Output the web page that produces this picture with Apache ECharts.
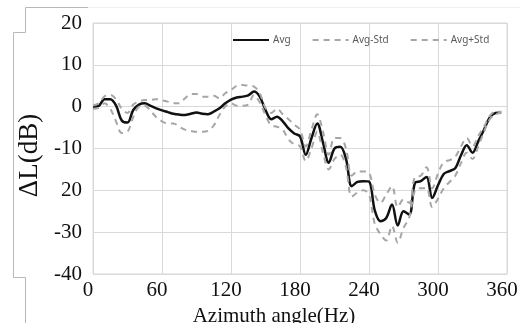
<!DOCTYPE html>
<html>
<head>
<meta charset="utf-8">
<script src="https://cdn.jsdelivr.net/npm/echarts@6/dist/echarts.min.js"></script>
<style>
  html, body { margin: 0; padding: 0; background: #fff; }
  #main { width: 530px; height: 323px; }
</style>
</head>
<body>
<div id="main"></div>
<script>
// azimuth every 5 degrees, 0..355
const angles = [
  0, 5, 10, 15, 20, 25, 30, 35, 40, 45, 50, 55, 60, 65, 70, 75, 80, 85,
  90, 95, 100, 105, 110, 115, 120, 125, 130, 135, 140, 145, 150, 155, 160, 165, 170, 175,
  180, 185, 190, 195, 200, 205, 210, 215, 220, 225, 230, 235, 240, 245, 250, 255, 260, 265,
  270, 275, 280, 285, 290, 295, 300, 305, 310, 315, 320, 325, 330, 335, 340, 345, 350, 355
];
const avg = [
  0, 0.2, 1.8, 1.8, 0.3, -3.3, -3.8, -0.8, 0.5, 0.8, 0.2, -0.4, -0.9, -1.3, -1.7, -1.9, -2.0, -1.7,
  -1.4, -1.7, -1.8, -1.2, -0.4, 0.8, 1.7, 2.2, 2.4, 2.7, 3.6, 2.4, -0.8, -3.0, -2.4, -3.5, -5.2, -6.4,
  -7.1, -11.5, -7.5, -4.0, -8.6, -13.4, -10.0, -9.6, -12.5, -19.0, -18.0, -17.8, -17.9, -24.8, -27.4, -26.6, -23.4, -28.4,
  -25.0, -25.8, -18.2, -17.8, -16.8, -21.8, -18.8, -16.1, -15.4, -14.7, -11.6, -9.2, -11.0, -8.3, -5.5, -2.6, -1.5, -1.4
];
const avgMinusStd = [
  -0.5, -0.3, 0.8, -0.5, -3.5, -6.3, -6.0, -2.5, 0.0, 0.2, -1.0, -2.5, -3.5, -4.0, -4.0, -4.8, -5.5, -5.8,
  -6.0, -6.0, -5.8, -4.5, -2.0, 0.0, 0.8, 0.2, 0.2, 0.5, 2.8, 1.0, -2.0, -4.5, -4.8, -5.5, -7.8, -9.0,
  -9.5, -13.0, -10.0, -6.0, -11.0, -15.0, -12.5, -11.5, -14.5, -21.5, -20.5, -20.0, -21.0, -28.0, -30.5, -32.0, -28.5, -32.5,
  -29.0, -26.5, -20.0, -19.5, -19.5, -24.0, -22.0, -19.5, -18.0, -16.5, -13.5, -11.0, -12.5, -9.5, -6.0, -3.0, -1.8, -1.5
];
const avgPlusStd = [
  0.3, 0.8, 2.5, 2.8, 1.8, -0.5, -1.5, 0.5, 1.2, 1.6, 1.6, 1.8, 1.5, 1.2, 0.8, 0.8, 2.0, 3.0,
  3.0, 2.4, 2.4, 2.6, 2.0, 3.2, 4.0, 5.0, 5.2, 5.0, 4.8, 3.2, -0.3, -1.5, -0.5, -1.8, -3.0, -4.3,
  -5.5, -9.5, -5.5, -1.8, -6.0, -11.5, -7.5, -7.5, -10.0, -16.5, -15.5, -15.5, -15.8, -21.0, -23.0, -21.0, -19.0, -24.0,
  -22.2, -23.0, -16.8, -16.5, -14.5, -19.5, -16.0, -13.2, -12.8, -12.0, -9.5, -7.5, -9.5, -7.0, -4.8, -2.2, -1.2, -1.2
];
// y tick labels as printed in the figure
const yTickValues = [20, 10, 0, -10, -20, -30, -40];
const yTickLabels = ['20', '10', '0', '-10', '20', '-30', '-40'];

const pairs = (ys) => angles.map((a, i) => [a, ys[i]]);
const serif = 'Liberation Serif';
const gridColor = '#d9d9d9';
const frameColor = '#b8b8b8';

const chart = echarts.init(document.getElementById('main'));

const option = {
  backgroundColor: '#fff',
  animation: false,
  grid: {
    left: 93, top: 23, width: 414, height: 251,
    outerBoundsMode: 'none',
    show: true, borderColor: gridColor, borderWidth: 1,
  },
  legend: {
    data: ['Avg', 'Avg-Std', 'Avg+Std'],
    left: 227,
    top: 30,
    itemWidth: 36,
    itemHeight: 10,
    itemGap: 21,
    itemStyle: { opacity: 0 },
    textStyle: { fontFamily: 'Noto Sans', fontSize: 10, color: '#595959', padding: [0, 0, 0, -1] },
  },
  xAxis: {
    type: 'value',
    min: 0,
    max: 360,
    interval: 60,
    axisLine: { show: false },
    axisTick: { show: false },
    splitLine: { lineStyle: { color: gridColor, width: 1 } },
    axisLabel: { fontFamily: serif, fontSize: 21, color: '#111', margin: 6, padding: [0, 10, 0, 0] },
    name: 'Azimuth angle(Hz)',
    nameLocation: 'middle',
    nameGap: 27,
    nameTextStyle: { fontFamily: serif, fontSize: 21, color: '#111', padding: [0, 52, 0, 0] },
  },
  yAxis: {
    type: 'value',
    min: -40,
    max: 20,
    interval: 10,
    axisLine: { show: false },
    axisTick: { show: false },
    splitLine: { lineStyle: { color: gridColor, width: 1 } },
    axisLabel: {
      fontFamily: serif,
      fontSize: 21,
      color: '#111',
      margin: 11,
      formatter: (v) => {
        const i = yTickValues.indexOf(v);
        return i >= 0 ? yTickLabels[i] : String(v);
      },
    },
    name: 'ΔL(dB)',
    nameLocation: 'middle',
    nameGap: 50,
    nameTextStyle: { fontFamily: serif, fontSize: 27, color: '#111', padding: [0, 14, 0, 0] },
  },
  graphic: [
    {
      type: 'polyline',
      silent: true,
      shape: { points: [[88, 7.5], [25.5, 7.5], [25.5, 32.5], [13.5, 32.5], [13.5, 277.5], [25.5, 277.5], [25.5, 323]] },
      style: { stroke: frameColor, lineWidth: 1, fill: null },
    },
    {
      type: 'line',
      silent: true,
      shape: { x1: 88, y1: 7.5, x2: 520, y2: 7.5 },
      style: { stroke: '#f0f0f0', lineWidth: 1 },
    },
  ],
  series: [
    {
      name: 'Avg',
      type: 'line',
      data: pairs(avg),
      smooth: 0.35,
      symbol: 'none',
      z: 3,
      lineStyle: { color: '#111', width: 2.5 },
      itemStyle: { color: '#111' },
    },
    {
      name: 'Avg-Std',
      type: 'line',
      data: pairs(avgMinusStd),
      smooth: 0.35,
      symbol: 'none',
      lineStyle: { color: '#a6a6a6', width: 2, type: [6, 5] },
      itemStyle: { color: '#a6a6a6' },
    },
    {
      name: 'Avg+Std',
      type: 'line',
      data: pairs(avgPlusStd),
      smooth: 0.35,
      symbol: 'none',
      lineStyle: { color: '#a6a6a6', width: 2, type: [6, 5] },
      itemStyle: { color: '#a6a6a6' },
    },
  ],
};

chart.setOption(option);
</script>
</body>
</html>
